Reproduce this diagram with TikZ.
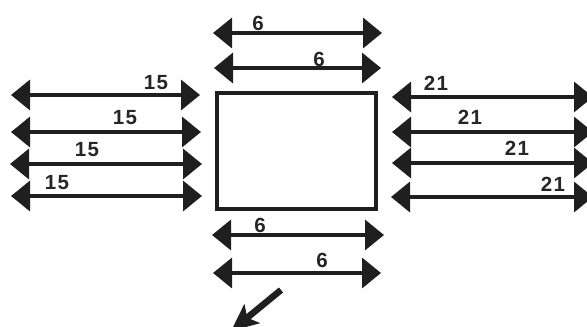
\documentclass[tikz,border=0pt]{standalone}
\usepackage{fontspec}
\setmainfont{Liberation Sans}[LetterSpace=6]
\usetikzlibrary{arrows.meta}
\tikzset{
  dim/.style={line width=3.5pt,color=black!88,{Triangle[length=19pt,width=30pt]}-{Triangle[length=19pt,width=30pt]}},
  val/.style={font=\fontsize{20.5}{21}\selectfont\bfseries,text=black!85,inner sep=0pt},
  box/.style={draw=black!88,line width=4pt,fill=white,inner sep=0pt,minimum width=159pt,minimum height=116pt},
  pt/.style={inner sep=0pt,minimum size=0pt}
}
\begin{document}
\begin{tikzpicture}[x=1pt,y=-1pt]
\useasboundingbox (0,0) rectangle (587,327);
\clip (0,0) rectangle (587,327);
\node[box] (panel) at (296.5,151) {};
\foreach \n/\xa/\xb/\yy/\lx/\ly/\t in {
 la/11/200/95/156/83/15, lb/11/201/132/125/118/15, lc/10/202/164/87/150/15, ld/11/202/196/57/183/15,
 ta/213/382/33/258/23/6, tb/214/381/68/319/59/6,
 ba/212/384/235/260/225/6, bb/213/381/273/322/260/6,
 ra/392/593/97/436/83/21, rb/392/593/132/470/117/21, rc/392/593/163/517/148/21, rd/391/593/197/553/184/21}{
  \coordinate (\n1) at (\xa,\yy);
  \coordinate (\n2) at (\xb,\yy);
  \draw[dim] (\n1) -- (\n2);
  \node[val] (\n t) at (\lx,\ly) {\t};
}
\coordinate (ntail) at (281,290);
\coordinate (nhead) at (231,331);
\draw[line width=6.5pt,color=black!88,-{Stealth[length=27pt,width=24pt,inset=6pt]}] (ntail) -- (nhead);
\end{tikzpicture}
\end{document}
